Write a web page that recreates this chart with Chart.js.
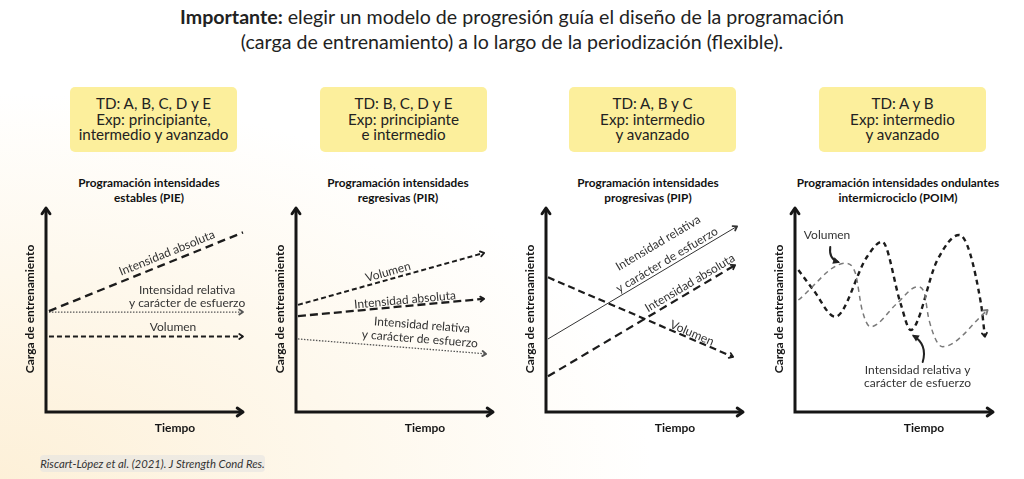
<!DOCTYPE html>
<html><head><meta charset="utf-8">
<script src="https://cdn.jsdelivr.net/npm/chart.js@4.4.1/dist/chart.umd.min.js"></script>
<style>
html,body{margin:0;padding:0;}
body{width:1024px;height:479px;position:relative;overflow:hidden;font-family:Lato,"Open Sans",sans-serif;color:#1e1e1e;
background:radial-gradient(ellipse 75% 95% at 0% 100%, #fdf0d8 0%, #fef8ec 45%, #ffffff 85%);}
#title{position:absolute;left:0;top:4px;width:1024px;text-align:center;font-size:19.6px;line-height:25px;color:#222;}
#title b{font-weight:700;}
.box{position:absolute;top:87px;width:167px;height:65px;background:#fcef9c;border-radius:5px;display:flex;align-items:center;justify-content:center;text-align:center;font-size:15.2px;line-height:15.5px;color:#222;}
.ctitle{position:absolute;top:175px;width:240px;text-align:center;font-weight:700;font-size:11.8px;line-height:15px;color:#111;}
.cw{position:absolute;top:200px;width:235px;height:240px;}
#cite{position:absolute;left:40px;top:455px;width:225px;height:17px;background:rgba(225,225,225,0.55);border-radius:4px;font-style:italic;font-size:11.3px;line-height:17px;text-align:center;color:#333;}
</style></head>
<body>
<div id="title"><b>Importante:</b> elegir un modelo de progresión guía el diseño de la programación<br>(carga de entrenamiento) a lo largo de la periodización (flexible).</div>

<div class="box" style="left:70px">TD: A, B, C, D y E<br>Exp: principiante,<br>intermedio y avanzado</div>
<div class="box" style="left:320px">TD: B, C, D y E<br>Exp: principiante<br>e intermedio</div>
<div class="box" style="left:569px">TD: A, B y C<br>Exp: intermedio<br>y avanzado</div>
<div class="box" style="left:819px">TD: A y B<br>Exp: intermedio<br>y avanzado</div>

<div class="ctitle" style="left:29px">Programación intensidades<br>estables (PIE)</div>
<div class="ctitle" style="left:278px">Programación intensidades<br>regresivas (PIR)</div>
<div class="ctitle" style="left:528px">Programación intensidades<br>progresivas (PIP)</div>
<div class="ctitle" style="left:778px">Programación intensidades ondulantes<br>intermicrociclo (POIM)</div>

<div class="cw" style="left:20px"><canvas id="c1" width="235" height="240"></canvas></div>
<div class="cw" style="left:270px"><canvas id="c2" width="235" height="240"></canvas></div>
<div class="cw" style="left:520px"><canvas id="c3" width="235" height="240"></canvas></div>
<div class="cw" style="left:770px"><canvas id="c4" width="235" height="240"></canvas></div>

<div id="cite">Riscart-López et al. (2021). J Strength Cond Res.</div>

<script>
// ---------- DATA (scale 0-10) ----------
const yAxisTitle = "Carga de entrenamiento";
const xAxisTitle = "Tiempo";

// PIE
const pieX     = [0.15, 10];
const pieAbs   = [4.95, 8.8];
const pieRel   = [4.9, 4.9];
const pieVol   = [3.7, 3.7];
// PIR
const pirX     = [0.1, 9.55];
const pirVol   = [5.25, 7.8];
const pirAbs   = [4.7, 5.55];
const pirRelX  = [0.1, 9.65];
const pirRel   = [3.58, 2.85];
// PIP
const pipX     = [0.1, 9.5];
const pipVol   = [6.6, 2.7];
const pipRelX  = [0.1, 9.7];
const pipRel   = [3.58, 9.1];
const pipAbsX  = [0.1, 9.6];
const pipAbs   = [1.75, 7.2];
// POIM
const poimVolX = [0.17, 2.54, 3.05, 3.39, 3.81, 5.16, 6.18, 6.51, 6.77, 7.45, 9.73];
const poimVol  = [5.49, 7.29, 6.8, 5.0, 4.18, 5.33, 6.14, 5.9, 4.51, 3.2, 5.0];
const poimIntX = [0.17, 0.93, 2.03, 3.64, 4.4, 5.33, 5.84, 7.19, 8.29, 9.39, 9.59];
const poimInt  = [6.96, 5.98, 4.67, 7.61, 8.35, 5.33, 4.02, 7.45, 8.68, 5.33, 3.69];

const pts = (xs, ys) => xs.map((x, i) => ({x, y: ys[i]}));

// ---------- decoration plugin: axes with arrows, line arrowheads, labels ----------
function chevron(ctx, x, y, a, s, lw, col){
  ctx.save();
  ctx.strokeStyle = col; ctx.lineWidth = lw; ctx.setLineDash([]); ctx.lineCap='round'; ctx.lineJoin='round';
  ctx.beginPath();
  ctx.moveTo(x - s*Math.cos(a - 0.6), y - s*Math.sin(a - 0.6));
  ctx.lineTo(x, y);
  ctx.lineTo(x - s*Math.cos(a + 0.6), y - s*Math.sin(a + 0.6));
  ctx.stroke();
  ctx.restore();
}
const deco = {
  id: 'deco',
  beforeDatasetsDraw(chart){
    const {ctx, chartArea: a} = chart;
    ctx.save();
    ctx.strokeStyle = '#161616'; ctx.lineWidth = 3; ctx.lineCap = 'butt';
    ctx.beginPath();
    ctx.moveTo(a.left, a.top + 1); ctx.lineTo(a.left, a.bottom);
    ctx.lineTo(a.right - 1, a.bottom);
    ctx.stroke();
    chevron(ctx, a.left, a.top, -Math.PI/2, 7, 3, '#161616');
    chevron(ctx, a.right, a.bottom, 0, 7, 3, '#161616');
    // axis titles
    ctx.fillStyle = '#161616';
    ctx.font = 'bold 12px Lato, sans-serif';
    ctx.textAlign = 'center'; ctx.textBaseline = 'middle';
    ctx.fillText(xAxisTitle, a.left + 129, a.bottom + 16);
    ctx.translate(a.left - 16, a.top + 101);
    ctx.rotate(-Math.PI/2);
    ctx.fillText(yAxisTitle, 0, 0);
    ctx.restore();
  },
  afterDatasetsDraw(chart, args, opts){
    const ctx = chart.ctx;
    const xs = chart.scales.x, ys = chart.scales.y;
    chart.data.datasets.forEach((ds, i) => {
      if (!ds.arrow) return;
      const els = chart.getDatasetMeta(i).data;
      const last = els[els.length - 1];
      let px = els[els.length - 2].x, py = els[els.length - 2].y;
      if (last.cp1x !== undefined && (Math.abs(last.cp1x - last.x) + Math.abs(last.cp1y - last.y)) > 0.5) { px = last.cp1x; py = last.cp1y; }
      const ang = Math.atan2(last.y - py, last.x - px);
      chevron(ctx, last.x, last.y, ang, ds.arrowSize || 4.5, 1.8, ds.borderColor);
    });
    (opts.labels || []).forEach(l => {
      let ang = 0;
      if (l.ds !== undefined) {
        const els = chart.getDatasetMeta(l.ds).data;
        ang = Math.atan2(els[els.length-1].y - els[0].y, els[els.length-1].x - els[0].x);
      }
      ctx.save();
      ctx.translate(xs.getPixelForValue(l.x), ys.getPixelForValue(l.y));
      ctx.rotate(ang);
      ctx.font = '12px Lato, sans-serif';
      ctx.fillStyle = '#333';
      ctx.textAlign = 'center'; ctx.textBaseline = 'middle';
      ctx.fillText(l.t, 0, 0);
      ctx.restore();
    });
    (opts.pointers || []).forEach(p => {
      const sx = xs.getPixelForValue(p.s[0]), sy = ys.getPixelForValue(p.s[1]);
      const cx = xs.getPixelForValue(p.c[0]), cy = ys.getPixelForValue(p.c[1]);
      const ex = xs.getPixelForValue(p.e[0]), ey = ys.getPixelForValue(p.e[1]);
      ctx.save();
      ctx.strokeStyle = '#222'; ctx.lineWidth = 2; ctx.lineCap = 'round';
      ctx.beginPath(); ctx.moveTo(sx, sy); ctx.quadraticCurveTo(cx, cy, ex, ey); ctx.stroke();
      ctx.restore();
      const ang = Math.atan2(ey - cy, ex - cx);
      ctx.save(); ctx.fillStyle = '#222';
      ctx.translate(ex, ey); ctx.rotate(ang);
      ctx.beginPath(); ctx.moveTo(2, 0); ctx.lineTo(-5, -3.5); ctx.lineTo(-5, 3.5); ctx.closePath(); ctx.fill();
      ctx.restore();
    });
  }
};

function dsLine(data, color, width, dash, arrow, extra){
  return Object.assign({data, borderColor: color, borderWidth: width, borderDash: dash, pointRadius: 0,
    fill: false, tension: 0, clip: false, arrow}, extra || {});
}

function makeChart(id, datasets, labels, pointers, padLeft){
  return new Chart(document.getElementById(id), {
    type: 'line',
    data: {datasets},
    options: {
      responsive: false, animation: false, events: [],
      layout: {padding: {left: padLeft, top: 8, right: 12, bottom: 28}},
      scales: {
        x: {type: 'linear', min: 0, max: 10, display: false},
        y: {type: 'linear', min: 0, max: 10, display: false}
      },
      plugins: {legend: {display: false}, tooltip: {enabled: false}, title: {display: false},
        deco: {labels, pointers}}
    },
    plugins: [deco]
  });
}

const DARK = '#1c1c1c', DOT = '#555555', GREY = '#7a7a7a';

// PIE
makeChart('c1', [
  dsLine(pts(pieX, pieAbs), DARK, 2.4, [8, 5], false),
  dsLine(pts(pieX, pieRel), DOT, 1.3, [1.5, 1.5], true),
  dsLine(pts(pieX, pieVol), DARK, 2, [5, 3], true)
], [
  {t: 'Intensidad absoluta', x: 6.14, y: 7.79, ds: 0},
  {t: 'Intensidad relativa', x: 7.16, y: 5.98},
  {t: 'y carácter de esfuerzo', x: 7.16, y: 5.34},
  {t: 'Volumen', x: 6.45, y: 4.17}
], [], 26);

// PIR
makeChart('c2', [
  dsLine(pts(pirX, pirVol), DARK, 2, [5, 3], true),
  dsLine(pts(pirX, pirAbs), DARK, 2.3, [8, 4], true),
  dsLine(pts(pirRelX, pirRel), DOT, 1.3, [1.5, 1.5], true)
], [
  {t: 'Volumen', x: 4.67, y: 6.86, ds: 0},
  {t: 'Intensidad absoluta', x: 5.53, y: 5.49, ds: 1},
  {t: 'Intensidad relativa', x: 6.4, y: 4.26, ds: 2},
  {t: 'y carácter de esfuerzo', x: 6.29, y: 3.58, ds: 2}
], [], 26);

// PIP
makeChart('c3', [
  dsLine(pts(pipX, pipVol), DARK, 2.2, [7, 4], true),
  dsLine(pts(pipRelX, pipRel), '#333', 1, [], true),
  dsLine(pts(pipAbsX, pipAbs), DARK, 2.2, [8, 5], true)
], [
  {t: 'Intensidad relativa', x: 5.69, y: 8.28, ds: 1},
  {t: 'y carácter de esfuerzo', x: 6.14, y: 7.45, ds: 1},
  {t: 'Intensidad absoluta', x: 7.31, y: 6.32, ds: 2},
  {t: 'Volumen', x: 7.41, y: 3.87, ds: 0}
], [], 26);

// POIM
makeChart('c4', [
  dsLine(pts(poimVolX, poimVol), GREY, 1.5, [5, 4], true, {cubicInterpolationMode: 'monotone'}),
  dsLine(pts(poimIntX, poimInt), DARK, 2.4, [5, 4], true, {cubicInterpolationMode: 'monotone'})
], [
  {t: 'Volumen', x: 1.62, y: 8.68},
  {t: 'Intensidad relativa y', x: 6.19, y: 2.06},
  {t: 'carácter de esfuerzo', x: 6.19, y: 1.42}
], [
  {s: [1.78, 8.09], c: [1.7, 7.5], e: [2.18, 7.35]},
  {s: [6.45, 2.45], c: [6.7, 3.3], e: [5.99, 3.73]}
], 25);
</script>
</body></html>
